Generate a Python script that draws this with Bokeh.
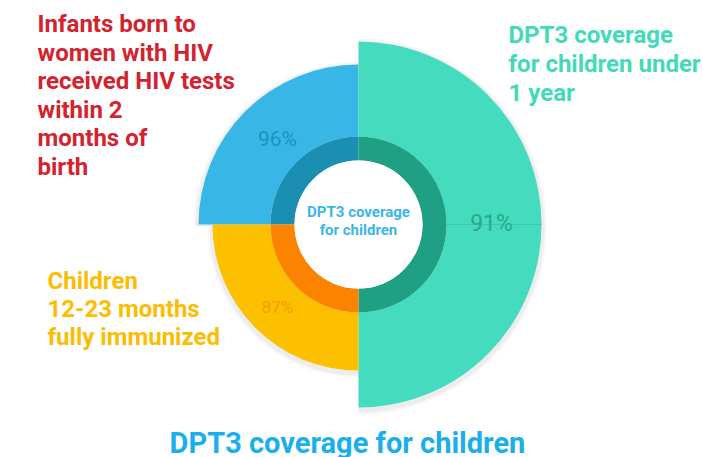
import math
from bokeh.plotting import figure
from bokeh.models import Range1d
from bokeh.embed import file_html
from bokeh.resources import INLINE
from bokeh.core.properties import value

# ---- data ----
categories = [
    "Infants born to women with HIV received HIV tests within 2 months of birth",
    "DPT3 coverage for children under 1 year",
    "Children 12-23 months fully immunized",
]
values = [96, 91, 87]
quarters = [1, 2, 1]          # angular span of each sector, in quarter turns (clockwise from 9 o'clock)
label_lines = [
    ["Infants born to", "women with HIV", "received HIV tests", "within 2", "months of", "birth"],
    ["DPT3 coverage", "for children under", "1 year"],
    ["Children", "12-23 months", "fully immunized"],
]
title_text = "DPT3 coverage for children"
center_lines = ["DPT3 coverage", "for children"]

# ---- styles ----
outer_r = [160, 183, 146]
fill = ["#38b7e7", "#45dbbf", "#fcc000"]
ring = ["#1a8fb2", "#1f9f84", "#fb8300"]
text_col = ["#d2232e", "#44d9bb", "#fcbd00"]
pct_col = ["#2190be", "#2aa88b", "#f59c00"]
pct_size = ["21px", "23px", "17px"]

W, H = 703, 457
def Y(py):
    return H - py

p = figure(width=W, height=H, output_backend="svg", toolbar_location=None,
           x_range=Range1d(0, W), y_range=Range1d(0, H),
           min_border=0)
p.axis.visible = False
p.grid.visible = False
p.outline_line_color = None
p.background_fill_color = "white"
p.border_fill_color = "white"

cx, cy = 358, Y(224)
r_in, r_ring = 64, 88

# angles (clockwise from 180 deg)
starts, ends = [], []
a = 180.0
for q in quarters:
    b = a - 90.0 * q
    starts.append(math.radians(b))
    ends.append(math.radians(a))
    a = b

# soft shadows
for i in range(3):
    for k, al in ((5, 0.03), (3, 0.04)):
        p.annular_wedge(x=cx, y=cy - 2, inner_radius=r_in, outer_radius=outer_r[i] + k,
                        start_angle=starts[i], end_angle=ends[i],
                        fill_color="black", fill_alpha=al, line_color=None)

for i in range(3):
    p.annular_wedge(x=cx, y=cy, inner_radius=r_ring, outer_radius=outer_r[i],
                    start_angle=starts[i], end_angle=ends[i],
                    fill_color=fill[i], line_color=None)
    p.annular_wedge(x=cx, y=cy, inner_radius=r_in, outer_radius=r_ring,
                    start_angle=starts[i], end_angle=ends[i],
                    fill_color=ring[i], line_color=None)

# faint split line in right sector
p.segment(x0=cx + r_in, y0=cy, x1=cx + outer_r[1], y1=cy, line_color="#1f9f84",
          line_alpha=0.25, line_width=1)

p.circle(x=cx, y=cy, radius=r_in, fill_color="white", line_color=None)

# percentage labels
pct_pos = [(277, 138), (491, 223), (277, 306)]
for i in range(3):
    px, py = pct_pos[i]
    p.text(x=[px], y=[Y(py)], text=[f"{values[i]}%"], text_align="center",
           text_baseline="middle", text_color=pct_col[i], text_font_size=pct_size[i],
           text_font=value("Roboto"))

# side labels (y = visual middle of each line)
lab_pos = [(37, 23.5, 28.6), (508, 34, 29.0), (47, 280, 28.0)]
for i in range(3):
    x0, m0, lh = lab_pos[i]
    for j, line in enumerate(label_lines[i]):
        p.text(x=[x0], y=[Y(m0 + j * lh)], text=[line], text_align="left",
               text_baseline="middle", text_color=text_col[i], text_font_size="24px",
               text_font=value("Roboto"), text_font_style="bold")

# center text
for j, line in enumerate(center_lines):
    p.text(x=[358], y=[Y(211.5 + j * 17.5)], text=[line], text_align="center",
           text_baseline="middle", text_color="#3ab6e8", text_font_size="15px",
           text_font=value("Roboto"), text_font_style="bold")

# bottom title
p.text(x=[347], y=[Y(442)], text=[title_text], text_align="center",
       text_baseline="middle", text_color="#1aaeea", text_font_size="29px",
       text_font=value("Roboto"), text_font_style="bold")

open("out.html", "w").write(file_html(p, INLINE))
